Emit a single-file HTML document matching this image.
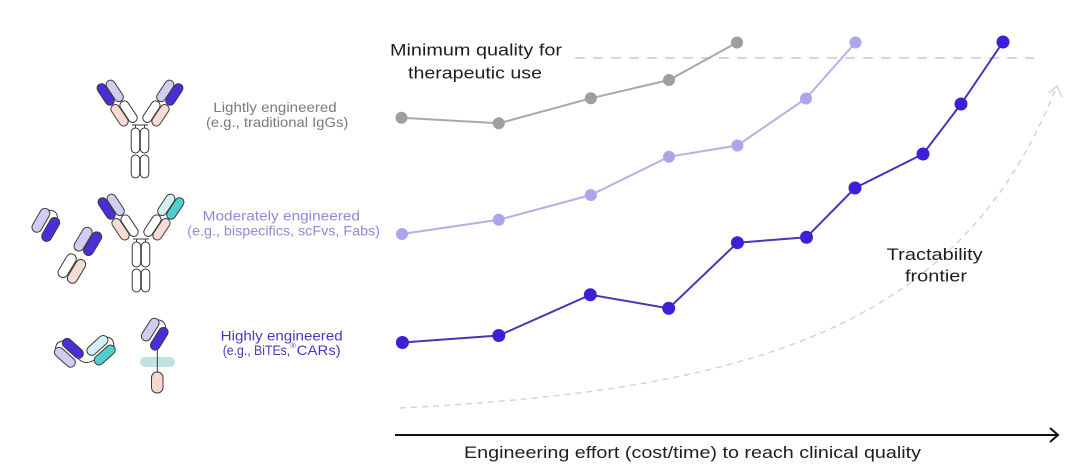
<!DOCTYPE html>
<html>
<head>
<meta charset="utf-8">
<style>
  html,body{margin:0;padding:0;background:#fff;}
  body{width:1080px;height:474px;overflow:hidden;}
  svg{display:block;}
  text{font-family:"Liberation Sans", sans-serif;}
</style>
</head>
<body>
<svg width="1080" height="474" viewBox="0 0 1080 474" xmlns="http://www.w3.org/2000/svg">
  <rect width="1080" height="474" fill="#fff"/>

  <!-- ============ LEFT ICONS ============ -->
  <g stroke="#3a3a3a" stroke-width="1">
    <!-- Lightly engineered Y antibody -->
    <g transform="translate(140,125)">
      <g transform="translate(-8,0) rotate(-33.6)">
        <rect x="0" y="-25" width="9" height="24" rx="4.5" fill="#fff"/>
        <rect x="0" y="-50" width="9" height="24" rx="4.5" fill="#cfcdf2"/>
        <rect x="-9.5" y="-27" width="9" height="24" rx="4.5" fill="#f6dcd4"/>
        <rect x="-9.5" y="-52" width="9" height="24" rx="4.5" fill="#4b2fd6"/>
      </g>
      <g transform="scale(-1,1) translate(-8,0) rotate(-33.6)">
        <rect x="0" y="-25" width="9" height="24" rx="4.5" fill="#fff"/>
        <rect x="0" y="-50" width="9" height="24" rx="4.5" fill="#cfcdf2"/>
        <rect x="-9.5" y="-27" width="9" height="24" rx="4.5" fill="#f6dcd4"/>
        <rect x="-9.5" y="-52" width="9" height="24" rx="4.5" fill="#4b2fd6"/>
      </g>
      <line x1="-8" y1="0" x2="8" y2="0"/>
      <line x1="-4.5" y1="0" x2="-4.5" y2="3"/>
      <line x1="4.5" y1="0" x2="4.5" y2="3"/>
      <rect x="-8.8" y="3" width="8.5" height="25" rx="4.2" fill="#fff"/>
      <rect x="0.3" y="3" width="8.5" height="25" rx="4.2" fill="#fff"/>
      <rect x="-8.8" y="30" width="8.5" height="23" rx="4.2" fill="#fff"/>
      <rect x="0.3" y="30" width="8.5" height="23" rx="4.2" fill="#fff"/>
    </g>

    <!-- Moderately engineered Y antibody -->
    <g transform="translate(141,239)">
      <g transform="translate(-8,0) rotate(-33.6)">
        <rect x="0" y="-25" width="9" height="24" rx="4.5" fill="#fff"/>
        <rect x="0" y="-50" width="9" height="24" rx="4.5" fill="#cfcdf2"/>
        <rect x="-9.5" y="-27" width="9" height="24" rx="4.5" fill="#f6dcd4"/>
        <rect x="-9.5" y="-52" width="9" height="24" rx="4.5" fill="#4b2fd6"/>
      </g>
      <g transform="scale(-1,1) translate(-8,0) rotate(-33.6)">
        <rect x="0" y="-25" width="9" height="24" rx="4.5" fill="#fff"/>
        <rect x="0" y="-50" width="9" height="24" rx="4.5" fill="#cff1f1"/>
        <rect x="-9.5" y="-27" width="9" height="24" rx="4.5" fill="#f6dcd4"/>
        <rect x="-9.5" y="-52" width="9" height="24" rx="4.5" fill="#4fcfcf"/>
      </g>
      <line x1="-8" y1="0" x2="8" y2="0"/>
      <line x1="-4.5" y1="0" x2="-4.5" y2="3"/>
      <line x1="4.5" y1="0" x2="4.5" y2="3"/>
      <rect x="-8.8" y="3" width="8.5" height="25" rx="4.2" fill="#fff"/>
      <rect x="0.3" y="3" width="8.5" height="25" rx="4.2" fill="#fff"/>
      <rect x="-8.8" y="30" width="8.5" height="23" rx="4.2" fill="#fff"/>
      <rect x="0.3" y="30" width="8.5" height="23" rx="4.2" fill="#fff"/>
    </g>

    <!-- scFv -->
    <g transform="translate(46.3,224) rotate(30)">
      <path d="M -5,-13 Q 3,-18 7,-10" fill="none"/>
      <rect x="-11.5" y="-13.5" width="10" height="26" rx="5" fill="#cfcdf2"/>
      <rect x="1.5" y="-10.5" width="10" height="26" rx="5" fill="#4b2fd6"/>
    </g>

    <!-- Fab -->
    <g transform="translate(79.4,255) rotate(31)">
      <rect x="-10" y="-28.5" width="10" height="26" rx="5" fill="#cfcdf2"/>
      <rect x="0.5" y="-29.5" width="10" height="26" rx="5" fill="#4b2fd6"/>
      <rect x="-10" y="2.5" width="10" height="26" rx="5" fill="#fff"/>
      <rect x="1" y="2.5" width="10" height="26" rx="5" fill="#f6dcd4"/>
    </g>

    <!-- BiTE -->
    <path d="M 77,357 Q 84,367 96,359" fill="none"/>
    <g transform="translate(68.7,353) rotate(-48)">
      <path d="M -6.5,-12 Q 0,-18 6.5,-11" fill="none"/>
      <rect x="-10.5" y="-12.5" width="9.5" height="25" rx="4.7" fill="#cfcdf2"/>
      <rect x="1.5" y="-12.5" width="9.5" height="25" rx="4.7" fill="#4b2fd6"/>
    </g>
    <g transform="translate(101.3,349.7) rotate(48)">
      <path d="M -6.5,-12 Q 0,-18 6.5,-11" fill="none"/>
      <rect x="-10.5" y="-12.5" width="9.5" height="25" rx="4.7" fill="#cff1f1"/>
      <rect x="1.5" y="-11.5" width="9.5" height="25" rx="4.7" fill="#4fcfcf"/>
    </g>

    <!-- CAR -->
    <rect x="140" y="357" width="35" height="10" rx="5" fill="#bfe2e2" stroke="none"/>
    <line x1="157.3" y1="347" x2="157.3" y2="372"/>
    <g transform="translate(155.3,333.3) rotate(32)">
      <path d="M -6,-12 Q 1,-17 7,-9" fill="none"/>
      <rect x="-11" y="-13" width="9.5" height="25" rx="4.7" fill="#cfcdf2"/>
      <rect x="1.5" y="-10" width="9.5" height="25" rx="4.7" fill="#4b2fd6"/>
    </g>
    <rect x="151.5" y="372" width="11.5" height="21" rx="5.5" fill="#f6d8cf"/>
  </g>

  <!-- ============ LEFT LABELS ============ -->
  <g font-size="14">
    <text x="213.3" y="112" textLength="123.4" lengthAdjust="spacingAndGlyphs" fill="#7b7b7b">Lightly engineered</text>
    <text x="206" y="127" textLength="142.3" lengthAdjust="spacingAndGlyphs" fill="#7b7b7b">(e.g., traditional IgGs)</text>
    <text x="202.7" y="220.7" textLength="157.3" lengthAdjust="spacingAndGlyphs" fill="#8e8ad6">Moderately engineered</text>
    <text x="187.3" y="235.7" textLength="192.7" lengthAdjust="spacingAndGlyphs" fill="#8e8ad6">(e.g., bispecifics, scFvs, Fabs)</text>
    <text x="220.7" y="340.5" textLength="122" lengthAdjust="spacingAndGlyphs" fill="#4a38c0">Highly engineered</text>
    <text x="222.7" y="355" textLength="67.5" lengthAdjust="spacingAndGlyphs" fill="#4a38c0">(e.g., BiTEs,</text>
    <text x="290.5" y="348" font-size="7" fill="#4a38c0">®</text>
    <text x="296.7" y="355" textLength="44" lengthAdjust="spacingAndGlyphs" fill="#4a38c0">CARs)</text>
  </g>

  <!-- ============ CHART ============ -->
  <line x1="575" y1="58" x2="1034" y2="58" stroke="#d6d6d6" stroke-width="2" stroke-dasharray="10 8"/>

  <path d="M 400,408 C 750,390 960,330 1056,88" fill="none" stroke="#d4d4d4" stroke-width="1.5" stroke-dasharray="6 5"/>
  <path d="M 1049,93 L 1057,86 L 1062,97" fill="none" stroke="#d4d4d4" stroke-width="1.5"/>

  <polyline points="401.5,117.7 498.8,123.3 590.8,98.3 669,80 737,42.5" fill="none" stroke="#a8a8a8" stroke-width="2"/>
  <g fill="#9e9e9e">
    <circle cx="401.5" cy="117.7" r="6"/>
    <circle cx="498.8" cy="123.3" r="6"/>
    <circle cx="590.8" cy="98.3" r="6"/>
    <circle cx="669" cy="80" r="6"/>
    <circle cx="737" cy="42.5" r="6"/>
  </g>

  <polyline points="402,234 498.8,219.8 590.8,195 669,156.7 737.4,145.5 806,98.5 855.5,42.5" fill="none" stroke="#b4b1e6" stroke-width="2"/>
  <g fill="#aaa6ec">
    <circle cx="402" cy="234" r="6"/>
    <circle cx="498.8" cy="219.8" r="6"/>
    <circle cx="590.8" cy="195" r="6"/>
    <circle cx="669" cy="156.7" r="6"/>
    <circle cx="737.4" cy="145.5" r="6"/>
    <circle cx="806" cy="98.5" r="6"/>
    <circle cx="855.5" cy="42.5" r="6"/>
  </g>

  <polyline points="402.4,342.5 498.8,335.5 590.3,294.8 668.7,308.3 737.4,242.7 806.5,237.3 855,188 923,154 961,104 1003,42" fill="none" stroke="#4636b8" stroke-width="2"/>
  <g fill="#3b20d6">
    <circle cx="402.4" cy="342.5" r="6.5"/>
    <circle cx="498.8" cy="335.5" r="6.5"/>
    <circle cx="590.3" cy="294.8" r="6.5"/>
    <circle cx="668.7" cy="308.3" r="6.5"/>
    <circle cx="737.4" cy="242.7" r="6.5"/>
    <circle cx="806.5" cy="237.3" r="6.5"/>
    <circle cx="855" cy="188" r="6.5"/>
    <circle cx="923" cy="154" r="6.5"/>
    <circle cx="961" cy="104" r="6.5"/>
    <circle cx="1003" cy="42" r="6.5"/>
  </g>

  <g font-size="16.5" fill="#1e1e1e">
    <text x="390" y="55.7" textLength="172" lengthAdjust="spacingAndGlyphs">Minimum quality for</text>
    <text x="408" y="78.3" textLength="134" lengthAdjust="spacingAndGlyphs">therapeutic use</text>
    <text x="886.7" y="260" textLength="96" lengthAdjust="spacingAndGlyphs">Tractability</text>
    <text x="905" y="281.5" textLength="62" lengthAdjust="spacingAndGlyphs">frontier</text>
  </g>

  <line x1="395" y1="435" x2="1058" y2="435" stroke="#111" stroke-width="2"/>
  <path d="M 1050,428 L 1058,435 L 1050,442" fill="none" stroke="#111" stroke-width="2"/>
  <text x="464" y="458" font-size="16.5" fill="#1e1e1e" textLength="457" lengthAdjust="spacingAndGlyphs">Engineering effort (cost/time) to reach clinical quality</text>
</svg>
</body>
</html>
